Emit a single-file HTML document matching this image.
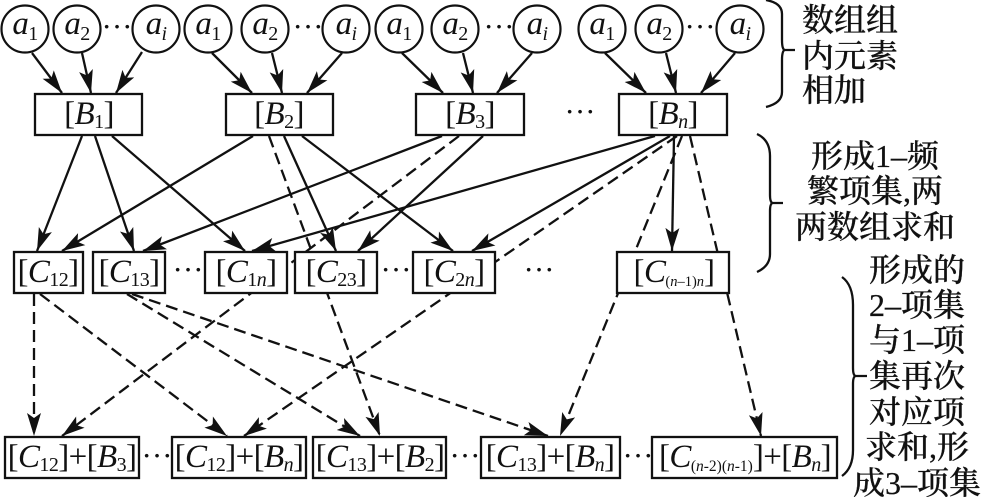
<!DOCTYPE html>
<html><head><meta charset="utf-8">
<style>
html,body{margin:0;padding:0;background:#fff}
svg{display:block}
text{fill:#111}
.m{font-family:"Liberation Serif",serif;font-size:33px;text-anchor:middle;letter-spacing:-0.6px}
.i{font-style:italic}
.s{font-size:20px}
.t{font-size:14.5px;letter-spacing:0}
.u{font-size:15.5px;letter-spacing:0}
.c{font-family:"Liberation Serif","Noto Serif CJK SC",serif;font-size:32px;text-anchor:middle;font-weight:500;stroke:#111;stroke-width:.25px}
.d{font-family:"Liberation Serif",serif;font-size:31px;text-anchor:middle}
.l line{stroke:#111;stroke-width:2.3;marker-end:url(#a)}
.k line{stroke:#111;stroke-width:2.3;stroke-dasharray:12 6;marker-end:url(#a)}
.b rect{fill:#fff;stroke:#111;stroke-width:2.3}
.o circle{fill:#fff;stroke:#111;stroke-width:2.2}
.r path{fill:none;stroke:#111;stroke-width:2.3}
</style></head><body>
<svg width="981" height="497" viewBox="0 0 981 497" xmlns="http://www.w3.org/2000/svg">
<defs><marker id="a" markerUnits="userSpaceOnUse" markerWidth="25" markerHeight="16" refX="23" refY="8" orient="auto"><path d="M23,8 L0,1 L5,8 L0,15 Z" fill="#111"/></marker></defs>

<g class="k">
<line x1="269" y1="136" x2="380" y2="436"/>
<line x1="459" y1="136" x2="62" y2="436"/>
<line x1="677" y1="136" x2="244" y2="436"/>
<line x1="682" y1="136" x2="560" y2="436"/>
<line x1="690" y1="136" x2="761" y2="436"/>
<line x1="34" y1="294" x2="34" y2="436"/>
<line x1="40" y1="294" x2="227" y2="436"/>
<line x1="127" y1="294" x2="360" y2="436"/>
<line x1="132" y1="294" x2="548" y2="436"/>
</g>

<g class="l">
<line x1="32" y1="53" x2="62" y2="93"/>
<line x1="82" y1="53" x2="91" y2="93"/>
<line x1="142" y1="52" x2="116" y2="93"/>
<line x1="212" y1="53" x2="252" y2="93"/>
<line x1="272" y1="53" x2="282" y2="93"/>
<line x1="342" y1="53" x2="307" y2="93"/>
<line x1="402" y1="53" x2="443" y2="93"/>
<line x1="463" y1="53" x2="473" y2="93"/>
<line x1="532" y1="53" x2="497" y2="93"/>
<line x1="605" y1="53" x2="646" y2="93"/>
<line x1="666" y1="53" x2="676" y2="93"/>
<line x1="735" y1="53" x2="701" y2="93"/>
<line x1="82" y1="136" x2="37" y2="251"/>
<line x1="95" y1="136" x2="134" y2="251"/>
<line x1="112" y1="136" x2="245" y2="251"/>
<line x1="253" y1="136" x2="62" y2="251"/>
<line x1="284" y1="136" x2="336" y2="251"/>
<line x1="302" y1="136" x2="453" y2="251"/>
<line x1="442" y1="136" x2="143" y2="251"/>
<line x1="483" y1="136" x2="358" y2="251"/>
<line x1="655" y1="136" x2="252" y2="251"/>
<line x1="670" y1="136" x2="472" y2="251"/>
<line x1="674" y1="136" x2="672" y2="251"/>
</g>

<g class="o">
<circle cx="25" cy="29" r="23.5"/><circle cx="77" cy="29" r="23.5"/><circle cx="156" cy="29" r="23.5"/>
<circle cx="208" cy="29" r="23.5"/><circle cx="265" cy="29" r="23.5"/><circle cx="346" cy="29" r="23.5"/>
<circle cx="399" cy="29" r="23.5"/><circle cx="455" cy="29" r="23.5"/><circle cx="537" cy="29" r="23.5"/>
<circle cx="602" cy="29" r="23.5"/><circle cx="659" cy="29" r="23.5"/><circle cx="740" cy="29" r="23.5"/>
</g>

<g class="b">
<rect x="35" y="94" width="107" height="41"/><rect x="226" y="94" width="107" height="41"/>
<rect x="416" y="94" width="108" height="41"/><rect x="619" y="94" width="108" height="41"/>
<rect x="14" y="252" width="69" height="41"/><rect x="93" y="252" width="72" height="41"/>
<rect x="205" y="252" width="82" height="41"/><rect x="295" y="252" width="82" height="41"/>
<rect x="413" y="252" width="82" height="41"/><rect x="617" y="252" width="112" height="41"/>
<rect x="5" y="437" width="134" height="41"/><rect x="172" y="437" width="134" height="41"/>
<rect x="313" y="437" width="133" height="41"/><rect x="481" y="437" width="139" height="41"/>
<rect x="652" y="437" width="185" height="41"/>
</g>

<g class="m">
<text x="25" y="34"><tspan class="i">a</tspan><tspan class="s" dy="6">1</tspan></text>
<text x="77" y="34"><tspan class="i">a</tspan><tspan class="s" dy="6">2</tspan></text>
<text x="156" y="34"><tspan class="i">a</tspan><tspan class="s i" dy="6">i</tspan></text>
<text x="208" y="34"><tspan class="i">a</tspan><tspan class="s" dy="6">1</tspan></text>
<text x="265" y="34"><tspan class="i">a</tspan><tspan class="s" dy="6">2</tspan></text>
<text x="346" y="34"><tspan class="i">a</tspan><tspan class="s i" dy="6">i</tspan></text>
<text x="399" y="34"><tspan class="i">a</tspan><tspan class="s" dy="6">1</tspan></text>
<text x="455" y="34"><tspan class="i">a</tspan><tspan class="s" dy="6">2</tspan></text>
<text x="537" y="34"><tspan class="i">a</tspan><tspan class="s i" dy="6">i</tspan></text>
<text x="602" y="34"><tspan class="i">a</tspan><tspan class="s" dy="6">1</tspan></text>
<text x="659" y="34"><tspan class="i">a</tspan><tspan class="s" dy="6">2</tspan></text>
<text x="740" y="34"><tspan class="i">a</tspan><tspan class="s i" dy="6">i</tspan></text>

<text x="89" y="124">[<tspan class="i">B</tspan><tspan class="s" dy="4">1</tspan><tspan dy="-4">]</tspan></text>
<text x="279" y="124">[<tspan class="i">B</tspan><tspan class="s" dy="4">2</tspan><tspan dy="-4">]</tspan></text>
<text x="470" y="124">[<tspan class="i">B</tspan><tspan class="s" dy="4">3</tspan><tspan dy="-4">]</tspan></text>
<text x="673" y="124">[<tspan class="i">B</tspan><tspan class="s i" dy="4">n</tspan><tspan dy="-4">]</tspan></text>

<text x="48" y="282">[<tspan class="i">C</tspan><tspan class="s" dy="4">12</tspan><tspan dy="-4">]</tspan></text>
<text x="129" y="282">[<tspan class="i">C</tspan><tspan class="s" dy="4">13</tspan><tspan dy="-4">]</tspan></text>
<text x="246" y="282">[<tspan class="i">C</tspan><tspan class="s" dy="4">1</tspan><tspan class="s i">n</tspan><tspan dy="-4">]</tspan></text>
<text x="336" y="282">[<tspan class="i">C</tspan><tspan class="s" dy="4">23</tspan><tspan dy="-4">]</tspan></text>
<text x="454" y="282">[<tspan class="i">C</tspan><tspan class="s" dy="4">2</tspan><tspan class="s i">n</tspan><tspan dy="-4">]</tspan></text>
<text x="674" y="282">[<tspan class="i">C</tspan><tspan class="t" dy="4">(</tspan><tspan class="t i">n</tspan><tspan class="t">–1)</tspan><tspan class="t i">n</tspan><tspan dy="-4">]</tspan></text>

<text x="72" y="467">[<tspan class="i">C</tspan><tspan class="s" dy="4">12</tspan><tspan dy="-4">]+[</tspan><tspan class="i">B</tspan><tspan class="s" dy="4">3</tspan><tspan dy="-4">]</tspan></text>
<text x="239" y="467">[<tspan class="i">C</tspan><tspan class="s" dy="4">12</tspan><tspan dy="-4">]+[</tspan><tspan class="i">B</tspan><tspan class="s i" dy="4">n</tspan><tspan dy="-4">]</tspan></text>
<text x="380" y="467">[<tspan class="i">C</tspan><tspan class="s" dy="4">13</tspan><tspan dy="-4">]+[</tspan><tspan class="i">B</tspan><tspan class="s" dy="4">2</tspan><tspan dy="-4">]</tspan></text>
<text x="550" y="467">[<tspan class="i">C</tspan><tspan class="s" dy="4">13</tspan><tspan dy="-4">]+[</tspan><tspan class="i">B</tspan><tspan class="s i" dy="4">n</tspan><tspan dy="-4">]</tspan></text>
<text x="745" y="467">[<tspan class="i">C</tspan><tspan class="u" dy="4">(</tspan><tspan class="u i">n</tspan><tspan class="u">-2)(</tspan><tspan class="u i">n</tspan><tspan class="u">-1)</tspan><tspan dy="-4">]+[</tspan><tspan class="i">B</tspan><tspan class="s i" dy="4">n</tspan><tspan dy="-4">]</tspan></text>
</g>

<g class="d">
<text x="117" y="37">···</text><text x="308" y="37">···</text><text x="499" y="37">···</text><text x="700" y="37">···</text>
<text x="580" y="122">···</text>
<text x="188" y="280">···</text><text x="396" y="280">···</text><text x="539" y="280">···</text>
<text x="157" y="466">···</text><text x="465" y="466">···</text><text x="638" y="466">···</text>
</g>

<g class="r">
<path d="M766,0 Q782,3 782,14 L782,40 Q782,50 785,50 L795,50 M785,50 Q782,50 782,60 L782,92 Q782,103 766,107"/>
<path d="M757,134 Q770,140 770,156 L770,195 Q770,203 773,203 L783,203 M773,203 Q770,203 770,211 L770,254 Q770,266 757,272"/>
<path d="M842,277 Q853,285 853,305 L853,368 Q853,376 856,376 L867,376 M856,376 Q853,376 853,384 L853,450 Q853,468 842,476"/>
</g>

<g class="c">
<text x="850" y="31">数组组</text>
<text x="850" y="67">内元素</text>
<text x="834" y="101">相加</text>
<text x="875" y="167">形成1–频</text>
<text x="875" y="202">繁项集,两</text>
<text x="875" y="238">两数组求和</text>
<text x="917" y="281">形成的</text>
<text x="917" y="316">2–项集</text>
<text x="917" y="351">与1–项</text>
<text x="917" y="387">集再次</text>
<text x="917" y="423">对应项</text>
<text x="917" y="458">求和,形</text>
<text x="917" y="494">成3–项集</text>
</g>
</svg>
</body></html>
